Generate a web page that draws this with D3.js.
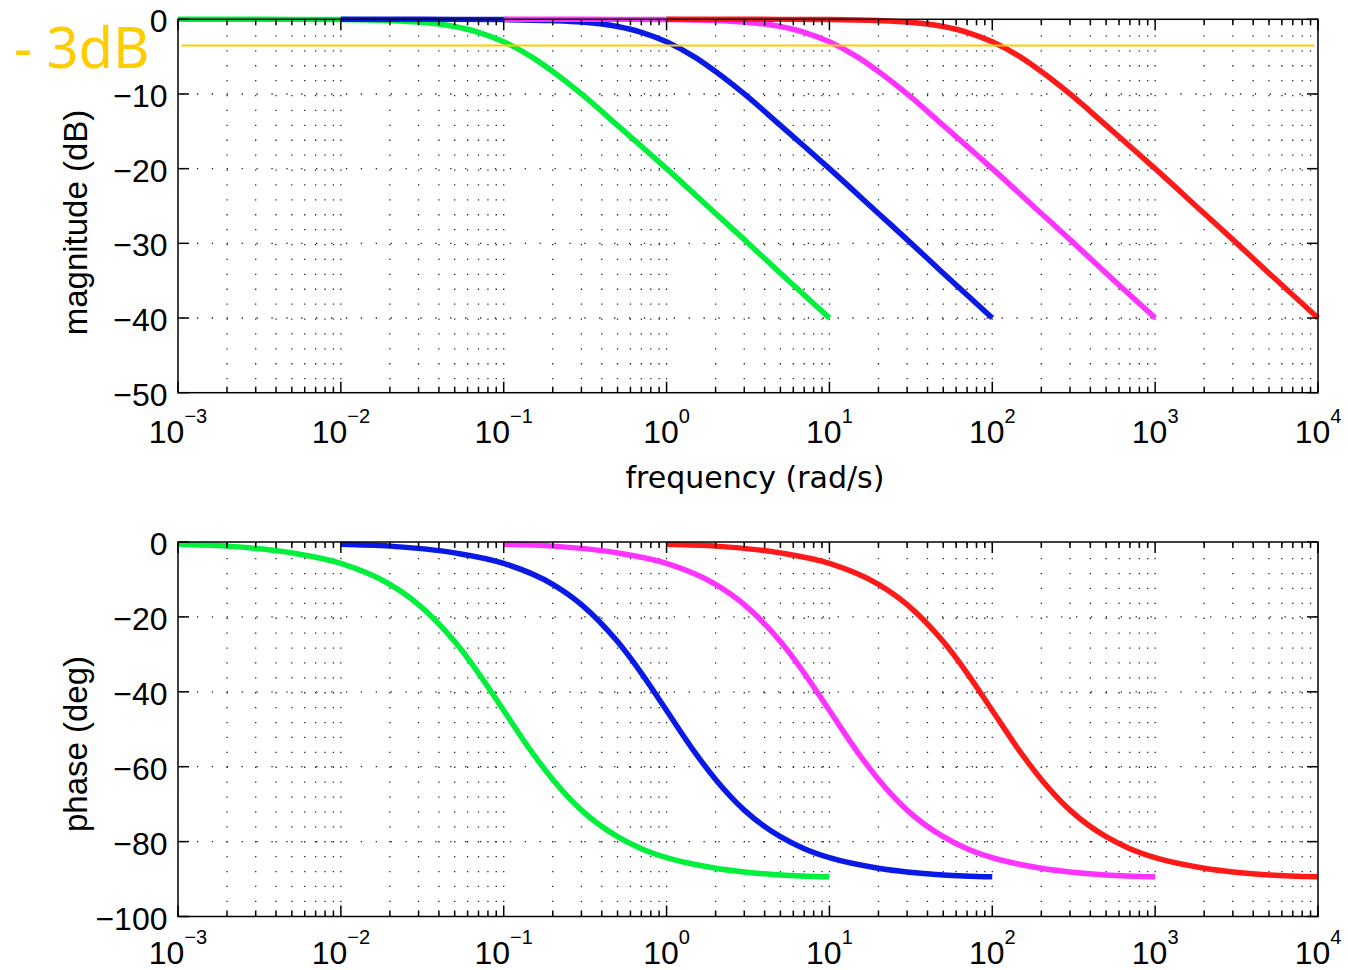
<!DOCTYPE html>
<html>
<head>
<meta charset="utf-8">
<script src="https://cdn.jsdelivr.net/npm/d3@7"></script>
<style>
  html, body { margin: 0; padding: 0; background: #fff; }
  svg { display: block; }
</style>
</head>
<body>
<svg id="chart" width="1348" height="970"></svg>
<script>
// ---------------- DATA ----------------
const xExponents = [-3, -2, -1, 0, 1, 2, 3, 4];
const magTicks = [0, -10, -20, -30, -40, -50];
const phaseTicks = [0, -20, -40, -60, -80, -100];
const seriesNames = ["green", "blue", "magenta", "red"];
const seriesColors = ["#00f03c", "#0a1ae6", "#ff33ff", "#ff1a1a"];

const freqGreen   = [0.001, 0.002, 0.005, 0.01, 0.02, 0.03, 0.05, 0.07, 0.1, 0.15, 0.2, 0.3, 0.5, 0.7, 1, 2, 3, 5, 10];
const freqBlue    = [0.01, 0.02, 0.05, 0.1, 0.2, 0.3, 0.5, 0.7, 1, 1.5, 2, 3, 5, 7, 10, 20, 30, 50, 100];
const freqMagenta = [0.1, 0.2, 0.5, 1, 2, 3, 5, 7, 10, 15, 20, 30, 50, 70, 100, 200, 300, 500, 1000];
const freqRed     = [1, 2, 5, 10, 20, 30, 50, 70, 100, 150, 200, 300, 500, 700, 1000, 2000, 3000, 5000, 10000];

const magGreen   = [0, 0, -0.01, -0.04, -0.17, -0.37, -0.97, -1.74, -3.0, -5.1, -7.0, -10.0, -14.2, -17.0, -20.0, -26.0, -29.5, -34.0, -40.0];
const magBlue    = [0, 0, -0.01, -0.04, -0.17, -0.37, -0.97, -1.74, -3.0, -5.1, -7.0, -10.0, -14.2, -17.0, -20.0, -26.0, -29.5, -34.0, -40.0];
const magMagenta = [0, 0, -0.01, -0.04, -0.17, -0.37, -0.97, -1.74, -3.0, -5.1, -7.0, -10.0, -14.2, -17.0, -20.0, -26.0, -29.5, -34.0, -40.0];
const magRed     = [0, 0, -0.01, -0.04, -0.17, -0.37, -0.97, -1.74, -3.0, -5.1, -7.0, -10.0, -14.2, -17.0, -20.0, -26.0, -29.5, -34.0, -40.0];

const phaseGreen   = [-0.6, -1.1, -2.9, -5.7, -11.3, -16.7, -26.6, -35.0, -45.0, -56.3, -63.4, -71.6, -78.7, -81.9, -84.3, -87.1, -88.1, -88.9, -89.4];
const phaseBlue    = [-0.6, -1.1, -2.9, -5.7, -11.3, -16.7, -26.6, -35.0, -45.0, -56.3, -63.4, -71.6, -78.7, -81.9, -84.3, -87.1, -88.1, -88.9, -89.4];
const phaseMagenta = [-0.6, -1.1, -2.9, -5.7, -11.3, -16.7, -26.6, -35.0, -45.0, -56.3, -63.4, -71.6, -78.7, -81.9, -84.3, -87.1, -88.1, -88.9, -89.4];
const phaseRed     = [-0.6, -1.1, -2.9, -5.7, -11.3, -16.7, -26.6, -35.0, -45.0, -56.3, -63.4, -71.6, -78.7, -81.9, -84.3, -87.1, -88.1, -88.9, -89.4];

const minus3dBFreq = [0.00105, 9500];
const minus3dBLevel = [-3.5, -3.5];
const minus3dBLabel = "- 3dB";

// ---------------- DRAW ----------------
const svg = d3.select("#chart");
const TICK_FONT = "'Liberation Sans', Arial, Helvetica, sans-serif";

const x = d3.scaleLog().domain([1e-3, 1e4]).range([178, 1318]);
const yMag = d3.scaleLinear().domain([-50, 0]).range([392.7, 19.3]);
const yPh = d3.scaleLinear().domain([-100, 0]).range([916.5, 542]);

const freqs = [freqGreen, freqBlue, freqMagenta, freqRed];
const mags = [magGreen, magBlue, magMagenta, magRed];
const phases = [phaseGreen, phaseBlue, phaseMagenta, phaseRed];

function sup(e) { return e < 0 ? "\u2212" + Math.abs(e) : String(e); }

function panel(y, yTicks, yValues, opts) {
  const [x0, x1] = x.range();
  const yBot = y.range()[0], yTop = y.range()[1];
  const g = svg.append("g");
  const allTicks = x.ticks();
  const majors = xExponents.map(e => Math.pow(10, e));
  const isMajor = v => majors.some(m => Math.abs(Math.log10(v) - Math.log10(m)) < 1e-6);

  // grid
  const grid = g.append("g").attr("stroke", "#222").attr("stroke-width", 1.3).attr("fill", "none");
  grid.selectAll("line.v").data(allTicks.filter(v => v > 1.0001e-3 && v < 0.9999e4)).join("line")
    .attr("x1", d => x(d)).attr("x2", d => x(d)).attr("y1", yTop).attr("y2", yBot)
    .attr("stroke-dasharray", "1.3,13.6").attr("stroke-dashoffset", -16);
  grid.selectAll("line.h").data(yTicks.filter(t => t !== y.domain()[0] && t !== y.domain()[1])).join("line")
    .attr("x1", x0).attr("x2", x1).attr("y1", d => y(d)).attr("y2", d => y(d))
    .attr("stroke-dasharray", "1.3,13.6").attr("stroke-dashoffset", -4);

  // curves
  const line = d3.line().x(d => x(d[0])).y(d => y(d[1])).curve(d3.curveMonotoneX);
  seriesNames.forEach((name, i) => {
    const pts = freqs[i].map((f, j) => [f, yValues[i][j]]);
    g.append("path").datum(pts).attr("d", line)
      .attr("fill", "none").attr("stroke", seriesColors[i]).attr("stroke-width", 5.5)
      .attr("stroke-linejoin", "round").attr("stroke-linecap", "butt");
  });

  if (opts.extra) opts.extra(g);

  // frame & ticks
  const ax = g.append("g").attr("stroke", "#000").attr("stroke-width", 1.5).attr("fill", "none");
  ax.append("rect").attr("x", x0).attr("y", yTop).attr("width", x1 - x0).attr("height", yBot - yTop);
  allTicks.forEach(v => {
    const L = isMajor(v) ? 11 : 6;
    ax.append("line").attr("x1", x(v)).attr("x2", x(v)).attr("y1", yBot).attr("y2", yBot - L);
    ax.append("line").attr("x1", x(v)).attr("x2", x(v)).attr("y1", yTop).attr("y2", yTop + L);
  });
  yTicks.forEach(t => {
    ax.append("line").attr("x1", x0).attr("x2", x0 + 11).attr("y1", y(t)).attr("y2", y(t));
    ax.append("line").attr("x1", x1).attr("x2", x1 - 11).attr("y1", y(t)).attr("y2", y(t));
  });

  // y tick labels
  g.selectAll("text.yl").data(yTicks).join("text")
    .attr("x", 167.5).attr("y", d => y(d) + 13)
    .attr("text-anchor", "end").attr("font-family", TICK_FONT).attr("font-size", 32)
    .attr("fill", "#000")
    .text(d => d < 0 ? "\u2212" + Math.abs(d) : String(d));

  // x tick labels
  xExponents.forEach(e => {
    const t = g.append("text").attr("x", x(Math.pow(10, e))).attr("y", opts.xLabelY)
      .attr("text-anchor", "middle").attr("font-family", TICK_FONT).attr("font-size", 32).attr("fill", "#000");
    t.append("tspan").text("10");
    t.append("tspan").attr("dy", -20).attr("font-size", 20).text(sup(e));
  });

  // y label
  g.append("text")
    .attr("transform", `translate(87,${opts.yLabelCenter}) rotate(-90)`)
    .attr("text-anchor", "middle").attr("font-family", TICK_FONT).attr("font-size", 33).attr("fill", "#000")
    .text(opts.yLabel);
}

panel(yMag, magTicks, mags, {
  xLabelY: 443, yLabelCenter: 222.5, yLabel: "magnitude (dB)",
  extra: g => {
    const pts = minus3dBFreq.map((f, i) => [f, minus3dBLevel[i]]);
    g.append("path").datum(pts)
      .attr("d", d3.line().x(d => x(d[0])).y(d => yMag(d[1])))
      .attr("stroke", "#ffcc00").attr("stroke-width", 2).attr("fill", "none");
  }
});
panel(yPh, phaseTicks, phases, { xLabelY: 964, yLabelCenter: 744, yLabel: "phase (deg)" });

svg.append("text").attr("x", 755).attr("y", 488).attr("text-anchor", "middle")
  .attr("font-family", "'DejaVu Sans', Verdana, sans-serif").attr("font-size", 30).attr("fill", "#000")
  .text("frequency (rad/s)");

svg.append("text").attr("x", 14).attr("y", 68)
  .attr("font-family", "'Noto Sans', 'Open Sans', sans-serif").attr("font-size", 56).attr("fill", "#ffcc00")
  .text(minus3dBLabel);
</script>
</body>
</html>
